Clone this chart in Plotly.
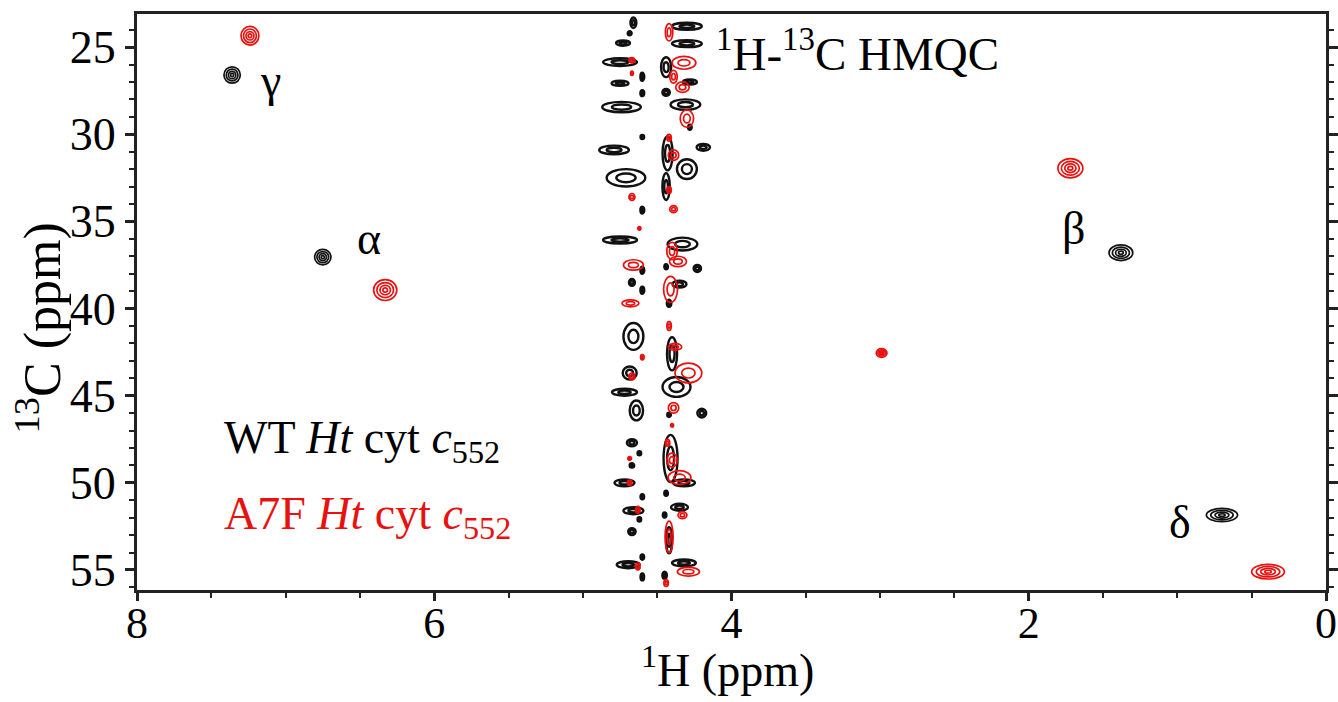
import plotly.graph_objects as go

# ---------------- data (ppm) ----------------
# isolated cross peaks: 1H shift, 13C shift, half-extent in 1H, half-extent in 13C
WT_PEAK_H = [7.36, 6.75, 1.38, 0.70]
WT_PEAK_C = [26.6, 37.05, 36.8, 51.85]
WT_PEAK_DH = [0.055, 0.055, 0.080, 0.105]
WT_PEAK_DC = [0.47, 0.44, 0.45, 0.38]

A7F_PEAK_H = [7.24, 6.33, 1.72, 0.39, 2.99]
A7F_PEAK_C = [24.35, 38.94, 31.95, 55.1, 42.55]
A7F_PEAK_DH = [0.060, 0.078, 0.084, 0.11, 0.036]
A7F_PEAK_DC = [0.54, 0.60, 0.55, 0.42, 0.25]

# crowded band near the water / alpha-proton region
WT_BAND_H = [4.66, 4.685, 4.73, 4.75, 4.60, 4.75, 4.60, 4.74, 4.60, 4.79, 4.71, 4.60,
             4.75, 4.60, 4.67, 4.60, 4.66, 4.685, 4.72, 4.64, 4.67, 4.62, 4.67, 4.72,
             4.60, 4.66, 4.62, 4.67, 4.60, 4.695, 4.60,
             4.30, 4.30, 4.44, 4.28, 4.44, 4.31, 4.28, 4.43, 4.30, 4.19, 4.44, 4.33,
             4.44, 4.23, 4.35, 4.42, 4.40, 4.37, 4.42, 4.20, 4.41, 4.32, 4.44, 4.35,
             4.45, 4.42, 4.32, 4.45]
WT_BAND_C = [23.6, 24.2, 24.77, 25.86, 26.7, 27.07, 27.64, 28.44, 30.16, 30.9, 32.5, 34.35,
             36.07, 37.8, 38.5, 38.95, 41.6, 43.7, 44.8, 45.85, 47.7, 48.3, 49.0, 50.0,
             50.8, 51.6, 52.1, 52.8, 54.26, 54.7, 55.4,
             23.8, 24.8, 26.15, 27.0, 27.6, 28.3, 29.6, 31.1, 32.0, 30.75, 33.0, 36.3,
             37.6, 37.7, 38.6, 39.7, 42.6, 44.5, 46.1, 46.0, 48.6, 50.0, 50.6, 51.4,
             51.85, 53.3, 54.6, 55.3]
WT_BAND_DH = [0.02, 0.013, 0.047, 0.114, 0.013, 0.057, 0.013, 0.13, 0.012, 0.10, 0.13, 0.013,
              0.114, 0.013, 0.02, 0.013, 0.067, 0.047, 0.084, 0.045, 0.034, 0.012, 0.015, 0.067,
              0.012, 0.067, 0.012, 0.025, 0.012, 0.077, 0.012,
              0.10, 0.10, 0.034, 0.047, 0.025, 0.10, 0.012, 0.034, 0.067, 0.045, 0.025, 0.10,
              0.012, 0.025, 0.047, 0.015, 0.034, 0.094, 0.012, 0.03, 0.047, 0.074, 0.012, 0.057,
              0.012, 0.02, 0.08, 0.015]
WT_BAND_DC = [0.30, 0.12, 0.15, 0.22, 0.23, 0.15, 0.17, 0.30, 0.12, 0.25, 0.50, 0.20,
              0.20, 0.20, 0.20, 0.20, 0.77, 0.37, 0.20, 0.57, 0.20, 0.12, 0.12, 0.20,
              0.15, 0.20, 0.12, 0.20, 0.15, 0.20, 0.20,
              0.20, 0.20, 0.57, 0.15, 0.20, 0.30, 0.15, 0.97, 0.57, 0.20, 0.77, 0.37,
              0.15, 0.20, 0.20, 0.20, 0.95, 0.57, 0.12, 0.25, 1.35, 0.20, 0.15, 0.20,
              0.15, 0.75, 0.20, 0.20]

A7F_BAND_H = [4.67, 4.67, 4.67, 4.62, 4.66, 4.68, 4.60, 4.67, 4.685, 4.685, 4.63, 4.63,
              4.42, 4.32, 4.39, 4.33, 4.30, 4.42, 4.39, 4.42, 4.39, 4.40, 4.36, 4.41,
              4.42, 4.38, 4.29, 4.39, 4.40, 4.43, 4.40, 4.35, 4.33, 4.42, 4.29, 4.44]
A7F_BAND_C = [25.75, 26.5, 33.6, 35.4, 37.5, 39.7, 42.8, 43.9, 48.6, 50.0, 51.55, 54.8,
              24.15, 25.9, 26.7, 27.3, 29.1, 30.2, 31.2, 33.2, 34.3, 36.7, 37.3, 38.9,
              41.0, 42.2, 43.7, 45.7, 46.7, 47.7, 48.7, 49.7, 51.85, 53.1, 55.1, 55.75]
A7F_BAND_DH = [0.02, 0.01, 0.02, 0.01, 0.067, 0.057, 0.012, 0.02, 0.012, 0.015, 0.015, 0.015,
               0.025, 0.08, 0.025, 0.045, 0.045, 0.015, 0.035, 0.015, 0.025, 0.035, 0.057, 0.047,
               0.015, 0.045, 0.09, 0.035, 0.01, 0.015, 0.035, 0.077, 0.03, 0.027, 0.074, 0.015]
A7F_BAND_DC = [0.15, 0.12, 0.20, 0.10, 0.30, 0.20, 0.15, 0.20, 0.10, 0.15, 0.20, 0.20,
               0.50, 0.37, 0.37, 0.30, 0.50, 0.20, 0.30, 0.20, 0.20, 0.50, 0.30, 0.75,
               0.25, 0.20, 0.57, 0.30, 0.10, 0.20, 0.40, 0.40, 0.20, 0.90, 0.25, 0.20]

# residue labels
LABEL_TEXT = ["γ", "α", "β", "δ"]
LABEL_H = [7.10, 6.44, 1.70, 0.98]
LABEL_C = [26.9, 35.96, 35.4, 52.25]

X_TICKS = [8, 6, 4, 2, 0]
Y_TICKS = [25, 30, 35, 40, 45, 50, 55]

X_TITLE = "<sup>1</sup>H (ppm)"
Y_TITLE = "<sup>13</sup>C (ppm)"

# ---------------- styles ----------------
BLACK = "#111111"
RED = "#e8110f"
FONT = "Liberation Serif, Times New Roman, serif"
PEAK_RING_FRACTIONS = [1.0, 0.72, 0.45, 0.2]
BAND_RING_FRACTIONS = [1.0, 0.5]

shapes = []


def add_ellipses(hs, cs, dhs, dcs, color, fractions, width):
    for h, c, dh, dc in zip(hs, cs, dhs, dcs):
        for f in fractions:
            shapes.append(dict(type="circle", xref="x", yref="y",
                               x0=h - dh * f, x1=h + dh * f,
                               y0=c - dc * f, y1=c + dc * f,
                               line=dict(color=color, width=width),
                               fillcolor="rgba(0,0,0,0)", layer="above"))


add_ellipses(WT_BAND_H, WT_BAND_C, WT_BAND_DH, WT_BAND_DC, BLACK, BAND_RING_FRACTIONS, 2.4)
add_ellipses(A7F_BAND_H, A7F_BAND_C, A7F_BAND_DH, A7F_BAND_DC, RED, BAND_RING_FRACTIONS, 1.7)
add_ellipses(WT_PEAK_H, WT_PEAK_C, WT_PEAK_DH, WT_PEAK_DC, BLACK, PEAK_RING_FRACTIONS, 1.7)
add_ellipses(A7F_PEAK_H, A7F_PEAK_C, A7F_PEAK_DH, A7F_PEAK_DC, RED, PEAK_RING_FRACTIONS, 1.7)

fig = go.Figure()
# invisible traces carrying the peak positions (for hover / axes)
fig.add_trace(go.Scatter(x=WT_PEAK_H + WT_BAND_H, y=WT_PEAK_C + WT_BAND_C, mode="markers",
                         marker=dict(size=1, color=BLACK, opacity=0), showlegend=False,
                         name="WT"))
fig.add_trace(go.Scatter(x=A7F_PEAK_H + A7F_BAND_H, y=A7F_PEAK_C + A7F_BAND_C, mode="markers",
                         marker=dict(size=1, color=RED, opacity=0), showlegend=False,
                         name="A7F"))

annotations = []
for t, h, c in zip(LABEL_TEXT, LABEL_H, LABEL_C):
    annotations.append(dict(x=h, y=c, xref="x", yref="y", text=t, showarrow=False,
                            font=dict(family=FONT, size=46, color="black"),
                            xanchor="center", yanchor="middle"))
annotations.append(dict(x=4.12, y=25.2, xref="x", yref="y",
                        text="<sup>1</sup>H-<sup>13</sup>C HMQC", showarrow=False,
                        font=dict(family=FONT, size=47, color="black"),
                        xanchor="left", yanchor="middle"))
annotations.append(dict(x=7.43, y=47.6, xref="x", yref="y",
                        text="WT <i>Ht</i> cyt <i>c</i><sub>552</sub>", showarrow=False,
                        font=dict(family=FONT, size=46, color="black"),
                        xanchor="left", yanchor="middle"))
annotations.append(dict(x=7.43, y=51.95, xref="x", yref="y",
                        text="A7F <i>Ht</i> cyt <i>c</i><sub>552</sub>", showarrow=False,
                        font=dict(family=FONT, size=46, color=RED),
                        xanchor="left", yanchor="middle"))
# axis titles
annotations.append(dict(x=0.497, y=-0.133, xref="paper", yref="paper", text=X_TITLE,
                        showarrow=False, font=dict(family=FONT, size=46, color="black"),
                        xanchor="center", yanchor="middle"))
annotations.append(dict(x=-0.082, y=0.455, xref="paper", yref="paper", text=Y_TITLE,
                        showarrow=False, textangle=-90,
                        font=dict(family=FONT, size=52, color="black"),
                        xanchor="center", yanchor="middle"))

fig.update_layout(
    width=1338, height=702,
    margin=dict(l=137, r=12, t=14, b=112, autoexpand=False),
    paper_bgcolor="white", plot_bgcolor="white",
    shapes=shapes, annotations=annotations,
    showlegend=False,
)
fig.update_xaxes(
    range=[8, 0], tickvals=X_TICKS, ticktext=[str(v) for v in X_TICKS],
    ticks="outside", ticklen=8, tickwidth=2.5, tickcolor="#222",
    minor=dict(dtick=0.5, ticks="outside", ticklen=5, tickwidth=2, tickcolor="#222"),
    showline=True, linewidth=3, linecolor="#222", mirror=True,
    showgrid=False, zeroline=False, automargin=False,
    ticklabeloverflow="allow", ticklabelstandoff=-16,
    tickfont=dict(family=FONT, size=44, color="black"),
)
fig.update_yaxes(
    range=[56.15, 23.1], tickvals=Y_TICKS, ticktext=[str(v) for v in Y_TICKS],
    ticks="outside", ticklen=9, tickwidth=3, tickcolor="#222",
    minor=dict(dtick=1, ticks="outside", ticklen=5, tickwidth=2, tickcolor="#222"),
    showline=True, linewidth=3, linecolor="#222", mirror="allticks",
    showgrid=False, zeroline=False, automargin=False,
    tickfont=dict(family=FONT, size=46, color="black"),
)

fig.write_html("out.html")
